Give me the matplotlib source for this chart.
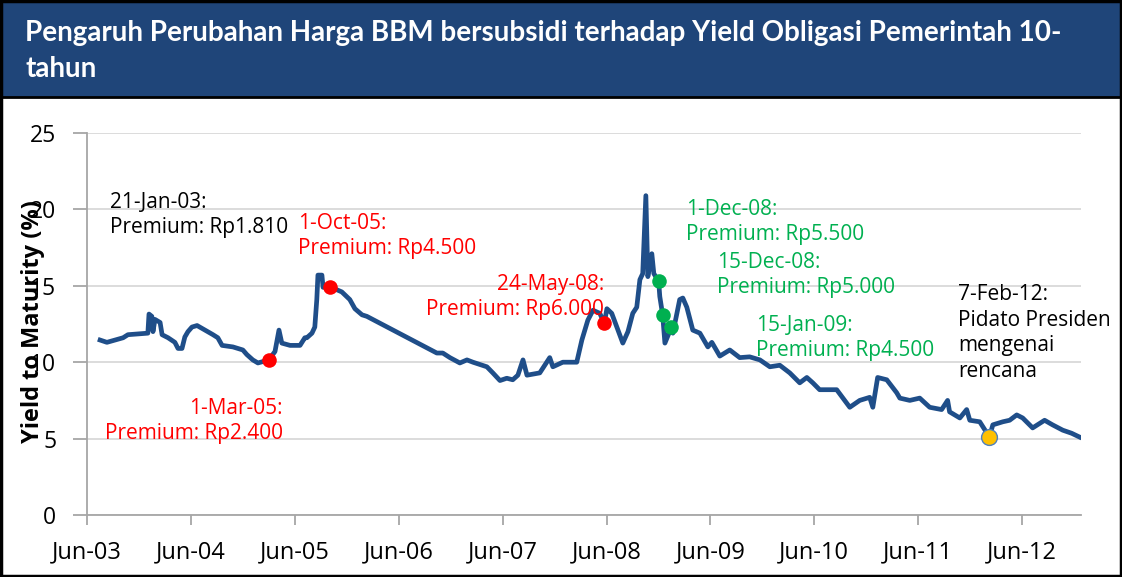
import matplotlib
matplotlib.use("Agg")
import matplotlib.pyplot as plt
import pandas as pd
from matplotlib.patches import Rectangle
from matplotlib.lines import Line2D

# yield series (10y government bond, %)
dates = ["2003-07-17", "2003-08-10", "2003-10-06", "2003-10-23", "2004-01-01", "2004-01-05",
         "2004-01-15", "2004-01-19", "2004-01-26", "2004-02-13", "2004-02-20", "2004-03-12",
         "2004-04-05", "2004-04-16", "2004-04-30", "2004-05-10", "2004-05-21", "2004-06-04",
         "2004-06-22", "2004-07-20", "2004-08-17", "2004-09-03", "2004-09-18", "2004-10-26",
         "2004-11-30", "2004-12-14", "2005-01-04", "2005-01-22", "2005-03-01", "2005-03-23",
         "2005-04-06", "2005-04-16", "2005-05-15", "2005-06-19", "2005-07-06", "2005-07-13",
         "2005-07-31", "2005-08-10", "2005-08-17", "2005-08-21", "2005-09-04", "2005-09-08",
         "2005-10-01", "2005-10-13", "2005-11-13", "2005-12-11", "2005-12-29", "2006-01-23",
         "2006-02-09", "2006-10-13", "2006-11-03", "2006-11-28", "2007-01-02", "2007-01-27",
         "2007-02-17", "2007-04-07", "2007-04-28", "2007-05-23", "2007-06-16", "2007-07-07",
         "2007-07-25", "2007-08-12", "2007-08-26", "2007-10-10", "2007-11-14", "2007-11-25",
         "2007-12-30", "2008-02-17", "2008-03-06", "2008-03-27", "2008-04-14", "2008-05-08",
         "2008-05-24", "2008-06-02", "2008-06-19", "2008-07-07", "2008-07-28", "2008-08-15",
         "2008-09-01", "2008-09-15", "2008-09-26", "2008-10-06", "2008-10-17", "2008-10-24",
         "2008-11-07", "2008-11-14", "2008-12-01", "2008-12-05", "2008-12-15", "2008-12-23",
         "2009-01-15", "2009-01-20", "2009-02-13", "2009-02-24", "2009-03-10", "2009-03-31",
         "2009-04-25", "2009-05-23", "2009-06-06", "2009-07-04", "2009-08-08", "2009-09-12",
         "2009-10-17", "2009-11-22", "2009-12-27", "2010-01-31", "2010-03-07", "2010-04-11",
         "2010-05-06", "2010-05-27", "2010-06-20", "2010-07-26", "2010-08-19", "2010-10-04",
         "2010-11-08", "2010-12-13", "2010-12-24", "2011-01-10", "2011-02-11", "2011-03-18",
         "2011-03-29", "2011-05-03", "2011-06-07", "2011-07-12", "2011-08-23", "2011-09-13",
         "2011-09-20", "2011-10-26", "2011-11-19", "2011-11-30", "2012-01-04", "2012-02-07",
         "2012-02-19", "2012-03-25", "2012-04-18", "2012-05-13", "2012-06-03", "2012-07-08",
         "2012-08-19", "2012-09-16", "2012-10-22", "2012-11-22", "2012-12-20"]
yields = [11.45, 11.3, 11.6, 11.8, 11.9, 13.15,
          13.0, 12.0, 12.8, 12.6, 11.8, 11.6,
          11.3, 10.9, 10.9, 11.65, 12.0, 12.3,
          12.4, 12.1, 11.8, 11.6, 11.1, 11.0,
          10.8, 10.5, 10.15, 9.95, 10.15, 10.7,
          12.1, 11.25, 11.1, 11.1, 11.6, 11.6,
          11.9, 12.3, 14.1, 15.7, 15.7, 14.9,
          14.9, 14.85, 14.6, 14.1, 13.5, 13.1,
          13.0, 10.6, 10.6, 10.3, 9.95, 10.15,
          10.0, 9.7, 9.3, 8.8, 8.95, 8.85,
          9.15, 10.15, 9.15, 9.3, 10.3, 9.7,
          10.0, 10.0, 11.45, 12.75, 13.4, 13.2,
          12.55, 13.5, 13.2, 12.3, 11.25, 12.0,
          13.2, 13.6, 15.4, 15.8, 20.9, 15.6,
          17.1, 15.8, 15.3, 14.3, 13.1, 11.25,
          12.3, 11.9, 14.1, 14.2, 13.6, 12.1,
          11.9, 11.0, 11.3, 10.4, 10.8, 10.3,
          10.35, 10.15, 9.7, 9.8, 9.3, 8.65,
          9.0, 8.65, 8.2, 8.2, 8.2, 7.05,
          7.5, 7.7, 7.05, 9.0, 8.85, 8.0,
          7.65, 7.5, 7.65, 7.05, 6.9, 7.5,
          6.75, 6.35, 6.9, 6.2, 6.1, 5.1,
          5.9, 6.1, 6.2, 6.55, 6.35, 5.7,
          6.2, 5.9, 5.55, 5.35, 5.1]

# subsidised fuel price change events
red_dates = ["2005-03-01", "2005-10-01", "2008-05-24"]
red_yields = [10.15, 14.9, 12.55]
green_dates = ["2008-12-01", "2008-12-15", "2009-01-15"]
green_yields = [15.3, 13.1, 12.3]
speech_dates = ["2012-02-07"]
speech_yields = [5.1]

tick_dates = pd.date_range("2003-06-01", "2012-06-01", freq="12MS")
tick_labels = [d.strftime("%b-%y") for d in tick_dates]

title = "Pengaruh Perubahan Harga BBM bersubsidi terhadap Yield Obligasi Pemerintah 10-\ntahun"

W, H = 1122, 577
fig = plt.figure(figsize=(W / 100, H / 100), dpi=100)
fig.patch.set_facecolor("white")

def fx(x):
    return x / W

def fy(y):
    return 1 - y / H

# title banner
fig.patches.append(Rectangle((0, fy(97)), 1, 1 - fy(97), transform=fig.transFigure,
                             facecolor="#1F4579", edgecolor="none", zorder=0))
fig.lines.append(Line2D([0, 1], [fy(97), fy(97)], transform=fig.transFigure, color="black", lw=2))
fig.patches.append(Rectangle((0.001, 0.001), 0.998, 0.998, transform=fig.transFigure,
                             facecolor="none", edgecolor="black", lw=2.5))
fig.text(fx(25), fy(51), title, color="white", fontsize=20, fontweight="bold",
         family="Lato", va="center", ha="left", linespacing=1.45)

ax = fig.add_axes([fx(87), fy(515), fx(1081) - fx(87), fy(133) - fy(515)])
x = pd.to_datetime(dates)
ax.plot(x, yields, color="#1F4E89", lw=3.4, solid_joinstyle="round", zorder=3)
ax.scatter(pd.to_datetime(red_dates), red_yields, s=110, color="#FF0000", zorder=4, lw=0)
ax.scatter(pd.to_datetime(green_dates), green_yields, s=110, color="#00B050", zorder=4, lw=0)
ax.scatter(pd.to_datetime(speech_dates), speech_yields, s=130, color="#FFC000", zorder=4,
           edgecolors="#4F81BD", lw=1)

ax.set_xlim(pd.Timestamp("2003-06-01"), pd.Timestamp("2012-12-25"))
ax.set_ylim(0, 25)
ax.set_yticks(range(0, 26, 5))
ax.set_xticks(tick_dates)
ax.set_xticklabels(tick_labels)
ax.grid(axis="y", color="#D9D9D9", lw=1.3)
ax.set_axisbelow(True)
for s in ["top", "right"]:
    ax.spines[s].set_visible(False)
for s in ["left", "bottom"]:
    ax.spines[s].set_color("#A6A6A6")
    ax.spines[s].set_linewidth(1.3)
ax.tick_params(axis="y", length=10, width=1.3, color="#A6A6A6", pad=12, labelsize=16.5)
ax.tick_params(axis="x", length=7, width=1.3, color="#A6A6A6", pad=11, labelsize=17)
for lab in ax.get_xticklabels() + ax.get_yticklabels():
    lab.set_family("Open Sans")

# y label sits over the tick labels, as in the source chart
fig.text(fx(33), fy(322), "Yield to Maturity (%)", rotation=90, fontsize=17,
         fontweight="bold", family="Open Sans", ha="center", va="center")

# annotations, placed in pixel coordinates of the figure
notes = [
    (110, 215, "21-Jan-03:\nPremium: Rp1.810", "black", "left"),
    (298, 236, "1-Oct-05:\nPremium: Rp4.500", "#FF0000", "left"),
    (283, 421, "1-Mar-05:\nPremium: Rp2.400", "#FF0000", "right"),
    (604, 297, "24-May-08:\nPremium: Rp6.000", "#FF0000", "right"),
    (686, 222, "1-Dec-08:\nPremium: Rp5.500", "#00B050", "left"),
    (717, 275, "15-Dec-08:\nPremium: Rp5.000", "#00B050", "left"),
    (756, 338, "15-Jan-09:\nPremium: Rp4.500", "#00B050", "left"),
    (958, 333, "7-Feb-12:\nPidato Presiden\nmengenai\nrencana", "black", "left"),
]
for px, py, txt, col, ha in notes:
    fig.text(fx(px), fy(py), txt, color=col, fontsize=15, family="Open Sans",
             ha=ha, va="center", multialignment=ha, linespacing=1.3, zorder=5)

fig.savefig("out.png", dpi=100)
